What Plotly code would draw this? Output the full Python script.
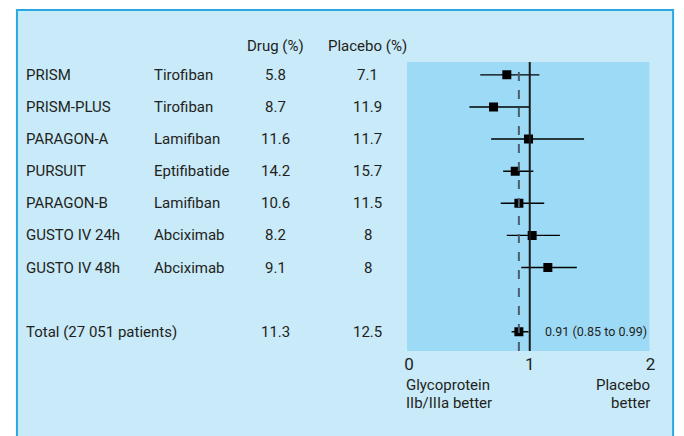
import plotly.graph_objects as go

# Trial table
studies = ["PRISM", "PRISM-PLUS", "PARAGON-A", "PURSUIT", "PARAGON-B",
           "GUSTO IV 24h", "GUSTO IV 48h", "Total (27 051 patients)"]
drugs = ["Tirofiban", "Tirofiban", "Lamifiban", "Eptifibatide", "Lamifiban",
         "Abciximab", "Abciximab", ""]
drug_pct = ["5.8", "8.7", "11.6", "14.2", "10.6", "8.2", "9.1", "11.3"]
placebo_pct = ["7.1", "11.9", "11.7", "15.7", "11.5", "8", "8", "12.5"]
row_pos = [0, 1, 2, 3, 4, 5, 6, 8]

# Odds ratios with 95% CI
odds = [0.81, 0.70, 0.99, 0.88, 0.91, 1.02, 1.15, 0.91]
ci_low = [0.59, 0.50, 0.68, 0.78, 0.76, 0.81, 0.93, 0.85]
ci_high = [1.08, 1.00, 1.45, 1.03, 1.12, 1.25, 1.39, 0.99]
pooled = 0.91

# page body adds an 8px offset, so work in screen pixels minus 8
W, H = 676, 428
OFF = 8


def px(x):
    return (x - OFF) / W


def py(y):
    return 1 - (y - OFF) / H


FONT = "Roboto, Arial, sans-serif"
TXT = "#231f20"

fig = go.Figure(go.Scatter(
    x=odds, y=row_pos, mode="markers",
    marker=dict(symbol="square", size=9, color="black"),
    error_x=dict(type="data", symmetric=False,
                 array=[h - o for h, o in zip(ci_high, odds)],
                 arrayminus=[o - l for o, l in zip(odds, ci_low)],
                 color="black", thickness=1.4, width=0),
    hoverinfo="skip", showlegend=False,
))

# outer panel, then the inner plot panel
fig.add_shape(type="rect", xref="paper", yref="paper", layer="below",
              x0=px(12), x1=px(678), y0=-0.05, y1=py(10),
              fillcolor="#c8eaf9", line=dict(color="#2aa9e0", width=2))
fig.add_shape(type="rect", xref="paper", yref="paper", layer="below",
              x0=px(408), x1=px(654), y0=py(351), y1=py(62),
              fillcolor="#9ddaf6", line=dict(width=0))

# reference lines
fig.add_shape(type="line", xref="x", yref="y domain", x0=1, x1=1, y0=0, y1=1,
              line=dict(color="#1a1a1a", width=2))
fig.add_shape(type="line", xref="x", yref="y domain", x0=pooled, x1=pooled, y0=0, y1=0.985,
              line=dict(color="#4b5d6b", width=2, dash="dash"))

base = dict(showarrow=False, yanchor="middle", font=dict(family=FONT, size=15, color=TXT))
annotations = [
    dict(base, text="Drug (%)", xref="paper", yref="paper", x=px(274), y=py(46), xanchor="center"),
    dict(base, text="Placebo (%)", xref="paper", yref="paper", x=px(368), y=py(46), xanchor="center"),
]
for s, d, dp, pp, r in zip(studies, drugs, drug_pct, placebo_pct, row_pos):
    annotations.append(dict(base, text=s, xref="paper", yref="y", x=px(19), y=r, xanchor="left"))
    annotations.append(dict(base, text=d, xref="paper", yref="y", x=px(149), y=r, xanchor="left"))
    annotations.append(dict(base, text=dp, xref="paper", yref="y", x=px(274), y=r, xanchor="center"))
    annotations.append(dict(base, text=pp, xref="paper", yref="y", x=px(368), y=r, xanchor="center"))

annotations.append(dict(text="0.91 (0.85 to 0.99)", xref="x", yref="y", x=1.11, y=8,
                        xanchor="left", yanchor="middle", showarrow=False,
                        font=dict(family=FONT, size=12.5, color=TXT)))
annotations.append(dict(base, text="Glycoprotein", xref="paper", yref="paper",
                        x=px(405), y=py(385), xanchor="left"))
annotations.append(dict(base, text="IIb/IIIa better", xref="paper", yref="paper",
                        x=px(405), y=py(403), xanchor="left"))
annotations.append(dict(base, text="Placebo", xref="paper", yref="paper",
                        x=px(657), y=py(385), xanchor="right"))
annotations.append(dict(base, text="better", xref="paper", yref="paper",
                        x=px(657), y=py(403), xanchor="right"))

fig.update_layout(
    width=W, height=H,
    margin=dict(l=0, r=0, t=0, b=0),
    paper_bgcolor="white",
    plot_bgcolor="rgba(0,0,0,0)",
    annotations=annotations,
    font=dict(family=FONT, color=TXT),
    xaxis=dict(domain=[px(410), px(655)], range=[0, 2], tickvals=[0, 1, 2],
               showgrid=False, zeroline=False, showline=False, ticks="",
               tickfont=dict(size=17, color=TXT), ticklabelstandoff=1),
    yaxis=dict(domain=[py(351), py(62)], range=[8.6, -0.4],
               showgrid=False, zeroline=False, showticklabels=False, ticks=""),
)

fig.write_html("out.html")
